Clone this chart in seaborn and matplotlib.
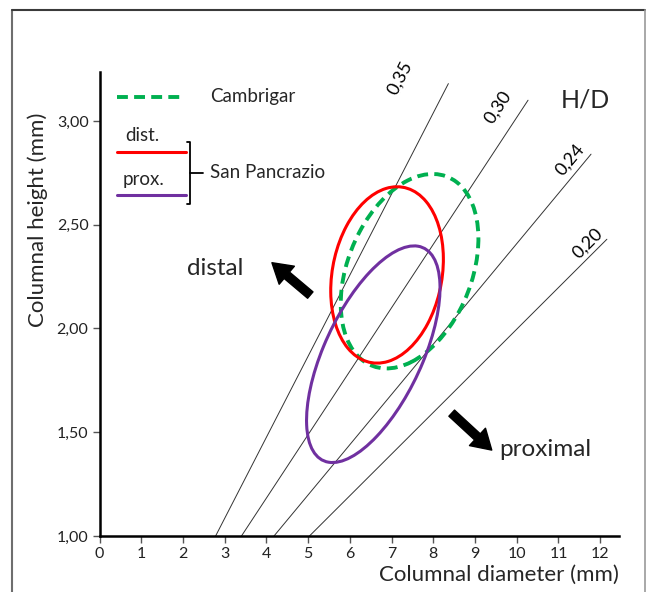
import numpy as np
import pandas as pd
import matplotlib.pyplot as plt
import seaborn as sns
from matplotlib.patches import Ellipse
from matplotlib.lines import Line2D

# H/D reference lines (start on the x axis, end at the top right)
hd_labels = ['0,35', '0,30', '0,24', '0,20']
hd_x_start = [2.78, 3.40, 4.18, 5.03]
hd_y_start = [1.00, 1.00, 1.00, 1.00]
hd_x_end = [8.36, 10.27, 11.78, 12.16]
hd_y_end = [3.18, 3.10, 2.84, 2.43]
hd_label_x = [7.20, 9.55, 11.28, 11.69]
hd_label_y = [3.21, 3.065, 2.812, 2.41]

# ellipses: Cambrigar, San Pancrazio distal, San Pancrazio proximal
groups = ['Cambrigar', 'dist.', 'prox.']
ell_cx = [7.43, 6.89, 6.56]
ell_cy = [2.276, 2.258, 1.876]
ell_w = [3.316, 2.705, 3.267]
ell_h = [0.879, 0.835, 0.809]
ell_angle = [5.83, 3.54, 12.03]

x_ticks = list(range(13))
y_ticks = [1.0, 1.5, 2.0, 2.5, 3.0]
y_tick_labels = ['1,00', '1,50', '2,00', '2,50', '3,00']

colors = {'Cambrigar': '#00b050', 'dist.': '#ff0000', 'prox.': '#7030a0'}

sns.set_theme(style='white')
plt.rcParams['font.family'] = ['Lato', 'DejaVu Sans']

fig = plt.figure(figsize=(6.47, 5.92), dpi=100)
ax = fig.add_axes([0.154, 0.0946, 0.8027, 0.7838])
ax.set_xlim(0, 12.45)
ax.set_ylim(1.0, 3.236)

# H/D lines
rows = []
for lab, x0, y0, x1, y1 in zip(hd_labels, hd_x_start, hd_y_start, hd_x_end, hd_y_end):
    rows.append({'ratio': lab, 'x': x0, 'y': y0})
    rows.append({'ratio': lab, 'x': x1, 'y': y1})
df_hd = pd.DataFrame(rows)
sns.lineplot(data=df_hd, x='x', y='y', units='ratio', estimator=None, sort=False,
             color='#333333', lw=0.7, legend=False, ax=ax)

for lab, x0, y0, x1, y1, tx, ty in zip(hd_labels, hd_x_start, hd_y_start, hd_x_end, hd_y_end,
                                        hd_label_x, hd_label_y):
    p0 = ax.transData.transform((x0, y0))
    p1 = ax.transData.transform((x1, y1))
    ang = np.degrees(np.arctan2(p1[1] - p0[1], p1[0] - p0[0]))
    ax.text(tx, ty, lab, rotation=ang, rotation_mode='anchor', ha='center', va='center',
            fontsize=13, color='black')

ax.text(11.64, 3.10, 'H/D', fontsize=18, ha='center', va='center')

# ellipses
for g, cx, cy, w, h, a in zip(groups, ell_cx, ell_cy, ell_w, ell_h, ell_angle):
    if g == 'Cambrigar':
        e = Ellipse((cx, cy), w, h, angle=a, fill=False, edgecolor=colors[g], lw=2.8,
                    linestyle=(0, (2.8, 1.6)), zorder=3)
    else:
        e = Ellipse((cx, cy), w, h, angle=a, fill=False, edgecolor=colors[g], lw=2.2, zorder=4)
    ax.add_patch(e)

# legend drawn inside the axes
ax.plot([0.42, 2.05], [3.116, 3.116], color=colors['Cambrigar'], lw=2.8,
        linestyle=(0, (2.8, 1.6)), solid_capstyle='butt')
ax.text(2.65, 3.116, 'Cambrigar', fontsize=13.5, ha='left', va='center')
ax.plot([0.42, 2.07], [2.851, 2.851], color=colors['dist.'], lw=2.2)
ax.text(1.02, 2.93, 'dist.', fontsize=13.5, ha='center', va='center')
ax.plot([0.42, 2.07], [2.644, 2.644], color=colors['prox.'], lw=2.2)
ax.text(1.04, 2.716, 'prox.', fontsize=13.5, ha='center', va='center')
ax.plot([2.10, 2.17, 2.17, 2.10], [2.900, 2.900, 2.600, 2.600], color='black', lw=1.3)
ax.plot([2.17, 2.48], [2.749, 2.749], color='black', lw=1.3)
ax.text(2.65, 2.754, 'San Pancrazio', fontsize=13.5, ha='left', va='center')

# direction arrows
arrow_style = 'simple,head_width=1.7,head_length=1.4,tail_width=0.6'
ax.annotate('', xy=(4.13, 2.317), xytext=(5.05, 2.161),
            arrowprops=dict(arrowstyle=arrow_style, color='black', shrinkA=0, shrinkB=0,
                            mutation_scale=10))
ax.annotate('', xy=(9.40, 1.414), xytext=(8.44, 1.592),
            arrowprops=dict(arrowstyle=arrow_style, color='black', shrinkA=0, shrinkB=0,
                            mutation_scale=10))
ax.text(2.77, 2.29, 'distal', fontsize=17.5, ha='center', va='center')
ax.text(10.68, 1.419, 'proximal', fontsize=17.5, ha='center', va='center')

# axes styling
ax.set_xticks(x_ticks)
ax.set_yticks(y_ticks)
ax.set_yticklabels(y_tick_labels)
ax.tick_params(axis='both', direction='out', length=5, width=1, color='#555555',
               labelsize=11.5, labelcolor='#222222', left=True, bottom=True, pad=3)
for s in ['top', 'right']:
    ax.spines[s].set_visible(False)
for s in ['left', 'bottom']:
    ax.spines[s].set_color('black')
    ax.spines[s].set_linewidth(1.8)

ax.set_xlabel('Columnal diameter (mm)', fontsize=16, ha='right', va='center')
ax.xaxis.set_label_coords(1.0, -0.084)
ax.set_ylabel('Columnal height (mm)', fontsize=16, va='center')
ax.yaxis.set_label_coords(-0.1186, 0.681)

# frame around the figure
fig.add_artist(Line2D([0.0185, 0.0185], [0.983, 0.0], transform=fig.transFigure,
                      color='#6e6e6e', lw=1.5))
fig.add_artist(Line2D([0.0185, 0.997], [0.983, 0.983], transform=fig.transFigure,
                      color='#3a3a3a', lw=1.5))
fig.add_artist(Line2D([0.997, 0.997], [0.983, 0.0], transform=fig.transFigure,
                      color='#9a9a9a', lw=1.2))

fig.savefig('out.png', dpi=100)
